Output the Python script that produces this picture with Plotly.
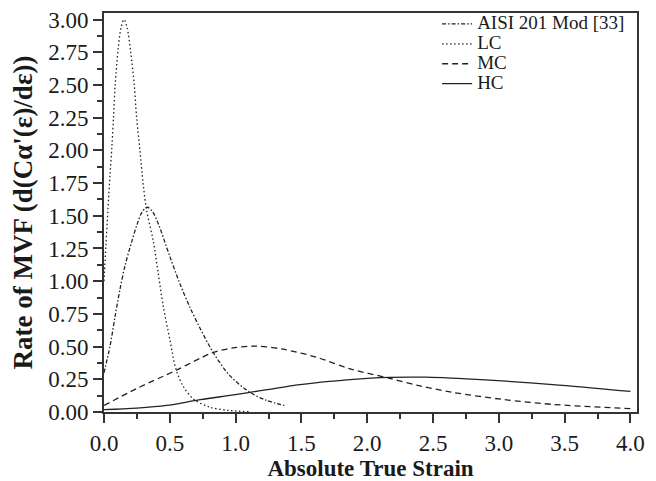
import plotly.graph_objects as go

# ---- data ----
aisi_x = [0.0, 0.046, 0.084, 0.121, 0.16, 0.21, 0.25, 0.29, 0.33, 0.37, 0.412,
          0.50, 0.577, 0.653, 0.73, 0.83, 0.956, 1.11, 1.23, 1.37]
aisi_y = [0.30, 0.505, 0.73, 0.935, 1.12, 1.30, 1.43, 1.53, 1.565, 1.53, 1.44,
          1.19, 0.98, 0.80, 0.64, 0.455, 0.278, 0.15, 0.09, 0.05]

lc_x = [0.0, 0.015, 0.03, 0.045, 0.06, 0.072, 0.085, 0.108, 0.13, 0.152, 0.175,
        0.203, 0.23, 0.248, 0.273, 0.298, 0.324, 0.374, 0.412, 0.45, 0.50,
        0.546, 0.60, 0.678, 0.80, 0.94, 1.10]
lc_y = [1.0, 1.28, 1.55, 1.80, 2.03, 2.25, 2.5, 2.78, 2.94, 3.0, 2.94,
        2.75, 2.5, 2.25, 2.0, 1.74, 1.54, 1.31, 1.06, 0.81, 0.556,
        0.33, 0.20, 0.10, 0.038, 0.013, 0.002]

mc_x = [0.0, 0.25, 0.55, 0.75, 0.83, 0.98, 1.16, 1.36, 1.61, 1.87, 2.17,
        2.40, 2.65, 3.03, 3.41, 4.0]
mc_y = [0.05, 0.18, 0.32, 0.42, 0.455, 0.49, 0.503, 0.48, 0.42, 0.33, 0.258,
        0.20, 0.15, 0.096, 0.058, 0.026]

hc_x = [0.0, 0.25, 0.475, 0.73, 0.956, 1.11, 1.49, 1.87, 2.17, 2.45, 2.90,
        3.41, 4.0]
hc_y = [0.018, 0.03, 0.05, 0.094, 0.127, 0.15, 0.21, 0.248, 0.265, 0.266,
        0.245, 0.21, 0.157]

series = [
    ("AISI 201 Mod [33]", aisi_x, aisi_y, "4px,2px,1.5px,2px"),
    ("LC", lc_x, lc_y, "1.5px,2.5px"),
    ("MC", mc_x, mc_y, "6px,4px"),
    ("HC", hc_x, hc_y, "solid"),
]

LEG_TEXT_PX = 19

fig = go.Figure()
for name, xs, ys, dash in series:
    fig.add_trace(go.Scatter(
        x=xs, y=ys, mode="lines",
        name=f'<span style="font-size:{LEG_TEXT_PX}px">{name}</span>',
        line=dict(color="#222222", width=1.3, dash=dash, shape="spline", smoothing=0.9),
    ))

serif = "Liberation Serif, Times New Roman, serif"
axis_common = dict(
    showline=True, linecolor="#333333", linewidth=2, mirror=True,
    ticks="outside", ticklen=9, tickwidth=1.5, tickcolor="#333333",
    showgrid=False, zeroline=False, automargin=False,
    tickfont=dict(family=serif, size=23, color="#1a1a1a"),
)

fig.update_xaxes(
    range=[0, 4.05], tick0=0, dtick=0.5, tickformat=".1f",
    minor=dict(ticks="outside", ticklen=5, tickwidth=1.5, tickcolor="#333333", dtick=0.25, tick0=0),
    title=dict(text="<b>Absolute True Strain</b>", font=dict(family=serif, size=23, color="#1a1a1a"), standoff=7),
    **axis_common,
)
fig.update_yaxes(
    range=[0, 3.05], tick0=0, dtick=0.25, tickformat=".2f",
    minor=dict(ticks="outside", ticklen=5, tickwidth=1.5, tickcolor="#333333", dtick=0.125, tick0=0),
    title=dict(text="<b>Rate of MVF (d(C\u03b1'(\u03b5)/d\u03b5))</b>", font=dict(family=serif, size=27, color="#1a1a1a"), standoff=8),
    **axis_common,
)

fig.update_layout(
    width=656, height=481,
    margin=dict(l=104, r=19, t=9, b=69),
    paper_bgcolor="white", plot_bgcolor="white",
    showlegend=True,
    legend=dict(
        x=0.625, y=1.01, xanchor="left", yanchor="top",
        font=dict(family=serif, size=13, color="#1a1a1a"),
        bgcolor="rgba(0,0,0,0)", borderwidth=0, tracegroupgap=0,
    ),
)

fig.write_html("out.html")
